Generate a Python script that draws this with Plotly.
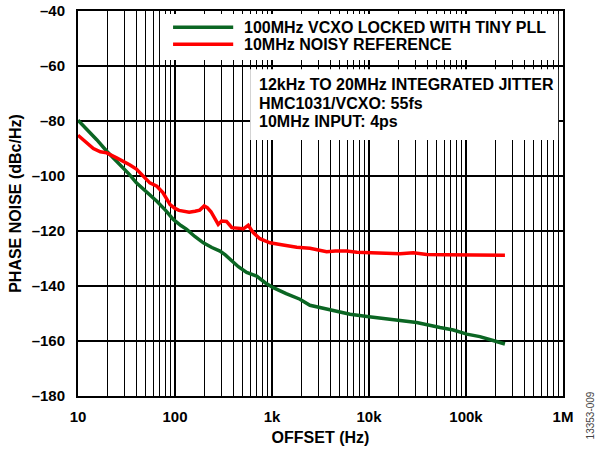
import plotly.graph_objects as go

# ---------------------------------------------------------------------------
# Data (offset in Hz, phase noise in dBc/Hz)
# ---------------------------------------------------------------------------

vcxo_freq = [10, 12, 15.6, 19.8, 25, 29.3, 34, 40, 50, 65, 80, 96, 115, 132,
             160, 196, 240, 291, 330, 369, 450, 548, 620, 695, 850, 1030,
             1400, 1940, 2460, 3200, 4290, 6370, 10000, 14000, 20000, 31000,
             54000, 74000, 102000, 139000, 190000, 252000]
vcxo_pn = [-79.7, -82.5, -86.8, -91.0, -94.5, -97.1, -99.5, -102.5, -105.5,
           -109.2, -112.5, -115.8, -118.0, -119.4, -122.0, -124.3, -126.0,
           -127.3, -128.7, -130.3, -133.0, -135.1, -135.8, -136.4, -138.8,
           -140.6, -142.8, -144.8, -147.0, -148.0, -149.1, -150.3, -151.2,
           -151.8, -152.5, -153.3, -155.1, -156.0, -157.5, -158.4, -159.8,
           -161.1]

ref_freq = [10, 11.8, 14.4, 17, 19.8, 25, 30, 34, 40, 47, 55, 65, 75, 89,
            100, 110, 122, 140, 161, 180, 200, 215, 235, 258, 279, 302, 340,
            385, 440, 507, 569, 640, 750, 952, 1300, 1800, 2460, 3000, 3660,
            4500, 5890, 7500, 9470, 14000, 20900, 28600, 39400, 60000, 102000,
            150000, 252000]
ref_pn = [-85.2, -87.4, -90.0, -91.2, -91.6, -93.4, -94.8, -95.9, -97.5,
          -100.1, -102.5, -103.7, -106.0, -110.4, -111.8, -112.5, -112.8,
          -113.2, -112.8, -112.4, -110.9, -111.5, -113.0, -115.2, -117.6,
          -116.4, -116.5, -118.8, -119.1, -119.2, -117.9, -120.6, -122.8,
          -124.3, -125.1, -125.9, -126.3, -127.0, -127.5, -127.3, -127.3,
          -127.7, -127.9, -128.1, -128.3, -127.9, -128.5, -128.6, -128.7,
          -128.8, -128.8]

x_tickvals = [10, 100, 1000, 10000, 100000, 1000000]
x_ticktext = ["10", "100", "1k", "10k", "100k", "1M"]
y_tickvals = [-180, -160, -140, -120, -100, -80, -60, -40]
y_ticktext = ["\u2013180", "\u2013160", "\u2013140", "\u2013120",
              "\u2013100", "\u201380", "\u201360", "\u201340"]
minor_vals = [m * d for d in (10, 100, 1000, 10000, 100000) for m in range(2, 10)]

legend_labels = ["100MHz VCXO LOCKED WITH TINY PLL", "10MHz NOISY REFERENCE"]
jitter_lines = ["12kHz TO 20MHz INTEGRATED JITTER",
                "HMC1031/VCXO: 55fs",
                "10MHz INPUT: 4ps"]

GREEN = "#0b6623"
RED = "#ff0000"
FONT = "Arial, Liberation Sans, sans-serif"

fig = go.Figure()
fig.add_trace(go.Scatter(x=vcxo_freq, y=vcxo_pn, mode="lines",
                         line=dict(color=GREEN, width=3.5), name=legend_labels[0]))
fig.add_trace(go.Scatter(x=ref_freq, y=ref_pn, mode="lines",
                         line=dict(color=RED, width=3.5), name=legend_labels[1]))

# white panels that hide the grid behind the legend and the jitter note
for x0, x1, y0, y1 in [(0.169, 0.990, 0.873, 0.992), (0.355, 0.990, 0.665, 0.849)]:
    fig.add_shape(type="rect", xref="paper", yref="paper", x0=x0, x1=x1, y0=y0, y1=y1,
                  fillcolor="white", line=dict(width=0), layer="above")

# hand-drawn legend (long line samples as in the reference)
for color, label, ly in [(GREEN, legend_labels[0], 0.958), (RED, legend_labels[1], 0.9135)]:
    fig.add_shape(type="line", xref="paper", yref="paper", x0=0.196, x1=0.320,
                  y0=ly, y1=ly, line=dict(color=color, width=3.5), layer="above")
    fig.add_annotation(text=label, xref="paper", yref="paper", x=0.3375, y=ly,
                       xanchor="left", yanchor="middle", showarrow=False,
                       font=dict(family=FONT, size=16, color="black", weight="bold"))

for line, ly in zip(jitter_lines, [0.808, 0.761, 0.714]):
    fig.add_annotation(text=line, xref="paper", yref="paper", x=0.369, y=ly,
                       xanchor="left", yanchor="middle", showarrow=False,
                       font=dict(family=FONT, size=16, color="black", weight="bold"))

fig.add_annotation(text="13353-009", xref="paper", yref="paper", x=1.056, y=-0.05,
                   xanchor="center", yanchor="middle", textangle=-90, showarrow=False,
                   font=dict(family=FONT, size=10, color="#444444"))

fig.update_layout(
    width=598, height=451, autosize=False,
    margin=dict(l=78, r=35, t=11, b=55),
    paper_bgcolor="white", plot_bgcolor="white",
    showlegend=False,
    font=dict(family=FONT, color="black"),
)
fig.update_xaxes(
    type="log", range=[1, 6], automargin=False,
    tickvals=x_tickvals, ticktext=x_ticktext,
    tickfont=dict(family=FONT, size=15, weight="bold"),
    ticks="", ticklabelstandoff=6,
    showgrid=True, gridcolor="black", gridwidth=2,
    minor=dict(tickvals=minor_vals, showgrid=True, gridcolor="black", gridwidth=1.2),
    showline=True, linecolor="black", linewidth=2, mirror=True,
    title=dict(text="OFFSET (Hz)", font=dict(family=FONT, size=16, weight="bold"),
               standoff=8),
    zeroline=False,
)
fig.update_yaxes(
    range=[-180, -40], automargin=False,
    tickvals=y_tickvals, ticktext=y_ticktext,
    tickfont=dict(family=FONT, size=15, weight="bold"),
    ticks="", ticklabelstandoff=8,
    showgrid=True, gridcolor="black", gridwidth=1.5,
    showline=True, linecolor="black", linewidth=2, mirror=True,
    title=dict(text="PHASE NOISE (dBc/Hz)", font=dict(family=FONT, size=16, weight="bold"),
               standoff=6),
    zeroline=False,
)

# the page body has a default 8px margin; drop it so the figure sits at 0,0
fig.write_html("out.html", config={"displayModeBar": False},
               post_script="document.body.style.margin='0';")
